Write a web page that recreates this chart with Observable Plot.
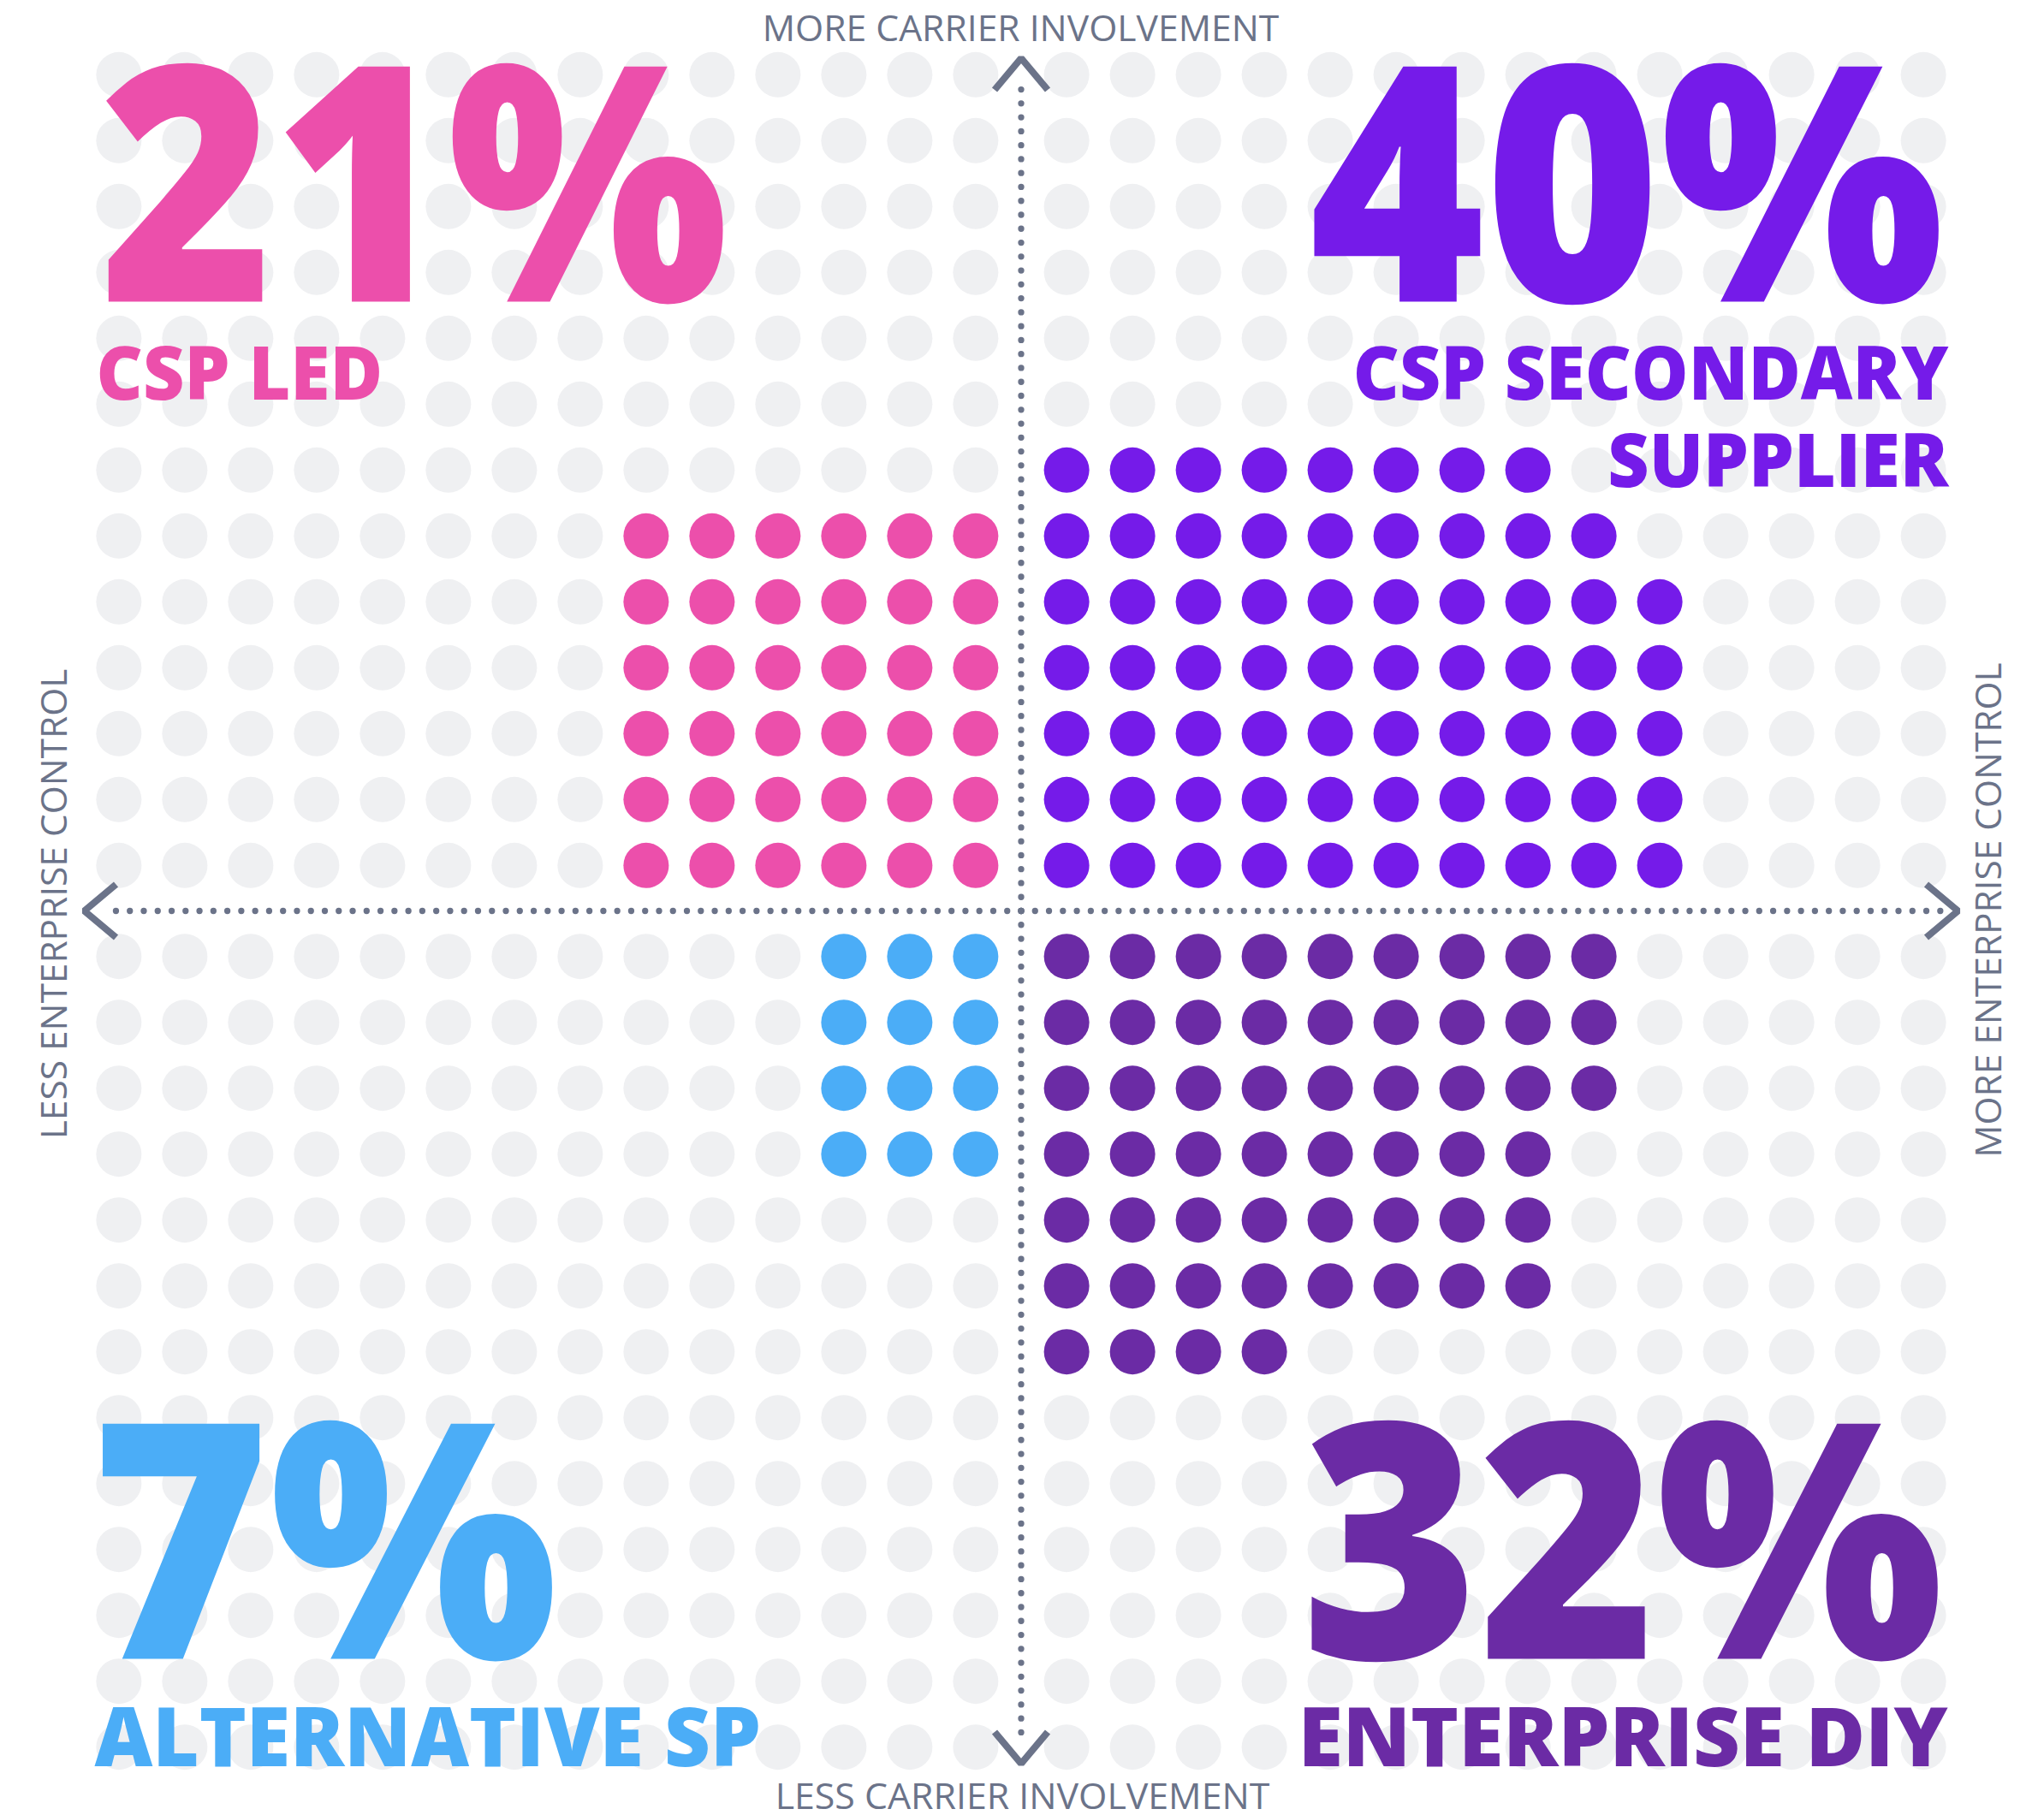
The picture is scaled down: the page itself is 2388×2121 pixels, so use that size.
<!DOCTYPE html>
<html><head><meta charset="utf-8">
<script src="https://cdn.jsdelivr.net/npm/d3@7"></script>
<script src="https://cdn.jsdelivr.net/npm/@observablehq/plot@0.6"></script>
<style>
html,body{margin:0;padding:0;background:#fff;}
#chart svg{display:block;}
</style>
</head><body><div id="chart"></div>
<script>
// ---- data ----
const segments = ["CSP LED", "CSP SECONDARY SUPPLIER", "ALTERNATIVE SP", "ENTERPRISE DIY"];
const shares = [21, 40, 7, 32];
const colors = ["#ec4fab", "#751be9", "#4badf7", "#6b2ba5"];
const quadrantX = [-1, 1, -1, 1];   // -1 = less enterprise control, +1 = more
const quadrantY = [1, 1, -1, -1];   // +1 = more carrier involvement, -1 = less
// filled dots per row, rows counted from the centre outward
const rowCounts = [
  [6, 6, 6, 6, 6, 6],
  [10, 10, 10, 10, 10, 9, 8],
  [3, 3, 3, 3],
  [9, 9, 9, 8, 8, 8, 4]
];
const gridCols = 14;   // columns per half
const gridRows = 13;   // rows per half
const axisLabels = ["MORE CARRIER INVOLVEMENT", "LESS CARRIER INVOLVEMENT", "LESS ENTERPRISE CONTROL", "MORE ENTERPRISE CONTROL"];

// ---- layout ----
const W = 2388, H = 2121;
const CX = 1192.5, CY = 1064, UNIT = 77, OFFSET = 0.69;
const u = px => px / UNIT;

const cells = [];
for (let q = 0; q < segments.length; q++) {
  for (let r = 0; r < gridRows; r++) for (let c = 0; c < gridCols; c++) {
    const filled = r < rowCounts[q].length && c < rowCounts[q][r];
    cells.push({x: quadrantX[q] * (OFFSET + c), y: quadrantY[q] * (OFFSET + r), seg: filled ? segments[q] : null});
  }
}
const grey = cells.filter(d => !d.seg);
const filled = cells.filter(d => d.seg);

const AX = "#6b7389";
const DOT = 16.27;
const axes = [
  {x1: 0, y1: 0, x2: -u(66 * DOT), y2: 0},
  {x1: 0, y1: 0, x2: u(66 * DOT), y2: 0},
  {x1: 0, y1: 0, x2: 0, y2: u(60 * DOT)},
  {x1: 0, y1: 0, x2: 0, y2: -u(60 * DOT)}
];
const TIPH = u(1094.5), TIPV = u(996.5), ALONG = u(37), CROSS = u(31);
const chevrons = [];
[[-1, 0], [1, 0], [0, 1], [0, -1]].forEach(([dx, dy], i) => {
  const tx = dx * TIPH, ty = dy * TIPV;
  if (dy === 0) {
    chevrons.push({k: i, x: tx - dx * ALONG, y: CROSS}, {k: i, x: tx, y: 0}, {k: i, x: tx - dx * ALONG, y: -CROSS});
  } else {
    chevrons.push({k: i, x: -CROSS, y: ty - dy * ALONG}, {k: i, x: 0, y: ty}, {k: i, x: CROSS, y: ty - dy * ALONG});
  }
});

const FONT = "Open Sans";
const big = 385, lab = 86, lab2 = 95;
const txt = (s, o) => Plot.text([s], {text: d => d, frameAnchor: "top-left", lineAnchor: "bottom", fontFamily: FONT, ...o});

// horizontal compression per text (to match the reference's tight lettering)
const squeeze = new Map([
  [`${shares[0]}%`, 0.9], [`${shares[1]}%`, 0.909], [`${shares[2]}%`, 0.923], [`${shares[3]}%`, 0.919],
  [segments[0], 0.977], ["CSP SECONDARY", 0.972], ["SUPPLIER", 0.974], [segments[2], 0.983], [segments[3], 1.0],
  [axisLabels[0], 1.015], [axisLabels[1], 1.02], [axisLabels[2], 1.01], [axisLabels[3], 1.01]
]);

const chart = Plot.plot({
  width: W, height: H, margin: 0,
  x: {domain: [-CX / UNIT, (W - CX) / UNIT], axis: null},
  y: {domain: [-(H - CY) / UNIT, CY / UNIT], axis: null},
  color: {domain: segments, range: colors},
  style: {background: "#fff"},
  marks: [
    Plot.dot(grey, {x: "x", y: "y", r: 26.5, fill: "#eff0f2"}),
    Plot.dot(filled, {x: "x", y: "y", r: 26.5, fill: "seg"}),
    Plot.link(axes, {x1: "x1", y1: "y1", x2: "x2", y2: "y2", stroke: AX, strokeWidth: 7.3, strokeDasharray: `0 ${DOT}`, strokeLinecap: "round"}),
    Plot.line(chevrons, {x: "x", y: "y", z: "k", stroke: AX, strokeWidth: 8, strokeLinejoin: "miter", strokeLinecap: "butt", curve: "linear"}),
    // big shares
    txt(`${shares[0]}%`, {dx: 116, dy: 352, textAnchor: "start", fill: colors[0], fontSize: big, fontWeight: 800}),
    txt(segments[0], {dx: 112, dy: 466, textAnchor: "start", fill: colors[0], fontSize: lab, fontWeight: 800}),
    txt(`${shares[1]}%`, {dx: 2271, dy: 352, textAnchor: "end", fill: colors[1], fontSize: big, fontWeight: 800}),
    txt("CSP SECONDARY", {dx: 2276, dy: 466, textAnchor: "end", fill: colors[1], fontSize: lab, fontWeight: 800}),
    txt("SUPPLIER", {dx: 2276, dy: 568, textAnchor: "end", fill: colors[1], fontSize: lab, fontWeight: 800}),
    txt(`${shares[2]}%`, {dx: 106, dy: 1938, textAnchor: "start", fill: colors[2], fontSize: big, fontWeight: 800}),
    txt(segments[2], {dx: 110, dy: 2063, textAnchor: "start", fill: colors[2], fontSize: lab2, fontWeight: 800}),
    txt(`${shares[3]}%`, {dx: 2270, dy: 1938, textAnchor: "end", fill: colors[3], fontSize: big, fontWeight: 800}),
    txt(segments[3], {dx: 2275, dy: 2063, textAnchor: "end", fill: colors[3], fontSize: lab2, fontWeight: 800}),
    // axis labels
    txt(axisLabels[0], {dx: 1192, dy: 47, textAnchor: "middle", fill: AX, fontSize: 42, fontWeight: 400}),
    txt(axisLabels[1], {dx: 1194, dy: 2113, textAnchor: "middle", fill: AX, fontSize: 42, fontWeight: 400}),
    txt(axisLabels[2], {dx: 77, dy: 1056, textAnchor: "middle", rotate: -90, fill: AX, fontSize: 42, fontWeight: 400}),
    txt(axisLabels[3], {dx: 2337, dy: 1063, textAnchor: "middle", rotate: -90, fill: AX, fontSize: 42, fontWeight: 400})
  ]
});
document.getElementById("chart").append(chart);
d3.select(chart).selectAll("text").each(function () {
  const k = squeeze.get(this.textContent);
  if (k && k !== 1) {
    const L = this.getComputedTextLength();
    this.setAttribute("textLength", (L * k).toFixed(1));
    this.setAttribute("lengthAdjust", "spacingAndGlyphs");
  }
});
</script>
</body></html>
